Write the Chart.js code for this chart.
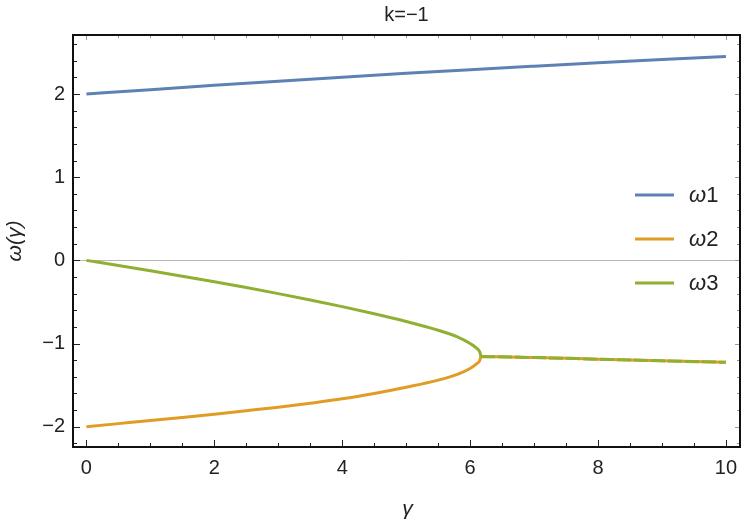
<!DOCTYPE html>
<html>
<head>
<meta charset="utf-8">
<script src="https://cdn.jsdelivr.net/npm/chart.js@4.4.0/dist/chart.umd.min.js"></script>
<style>
  html, body { margin: 0; padding: 0; background: #fff; }
</style>
</head>
<body>
<canvas id="chart" width="750" height="523"></canvas>
<script>
// valeurs (k = -1)
const gammaTop = [0, 1, 2, 3, 4, 5, 6, 7, 8, 9, 10];
const omega1 = [2.0, 2.053, 2.105, 2.155, 2.203, 2.249, 2.293, 2.335, 2.376, 2.415, 2.452];

const gammaBranch = [0, 0.5, 1, 1.5, 2, 2.5, 3, 3.5, 4, 4.5, 5, 5.5, 5.8, 6.0, 6.1, 6.15, 6.17];
const omega2Branch = [-2.0, -1.963, -1.926, -1.888, -1.849, -1.808, -1.765, -1.717, -1.665, -1.60, -1.525, -1.44, -1.37, -1.30, -1.245, -1.205, -1.155];
const omega3Branch = [0, -0.062, -0.125, -0.19, -0.257, -0.327, -0.40, -0.476, -0.556, -0.642, -0.735, -0.84, -0.92, -1.00, -1.055, -1.10, -1.155];

const gammaMerged = [6.17, 7, 8, 9, 10];
const omegaMerged = [-1.155, -1.168, -1.188, -1.208, -1.226];

const xMajor = [0, 2, 4, 6, 8, 10];
const yMajor = [-2, -1, 0, 1, 2];

const seriesLabels = ['1', '2', '3'];
const colors = ['#5E81B5', '#E19C24', '#8FB032'];

function pts(xs, ys) {
    return xs.map((x, i) => ({ x: x, y: ys[i] }));
}

const fontFam = '"Liberation Sans", Arial, sans-serif';

// cadre, graduations internes, légende, titres
const decorPlugin = {
    id: 'decor',
    beforeDatasetsDraw(chart) {
        const { ctx, chartArea: a, scales } = chart;
        const y0 = scales.y.getPixelForValue(0);
        ctx.save();
        ctx.strokeStyle = '#b8b8b8';
        ctx.lineWidth = 1;
        ctx.beginPath();
        ctx.moveTo(a.left, Math.round(y0) + 0.5);
        ctx.lineTo(a.right, Math.round(y0) + 0.5);
        ctx.stroke();
        ctx.restore();
    },
    afterDraw(chart) {
        const { ctx, chartArea: a, scales } = chart;
        const xs = scales.x, ys = scales.y;
        ctx.save();

        // graduations
        ctx.lineWidth = 1;
        for (let v = 0; v <= 10.001; v += 0.5) {
            const px = Math.round(xs.getPixelForValue(v)) + 0.5;
            const major = Math.abs(v / 2 - Math.round(v / 2)) < 1e-6;
            ctx.strokeStyle = '#222';
            ctx.beginPath();
            ctx.moveTo(px, a.bottom);
            ctx.lineTo(px, a.bottom - (major ? 7 : 4));
            ctx.stroke();
            ctx.strokeStyle = '#999';
            ctx.beginPath();
            ctx.moveTo(px, a.top);
            ctx.lineTo(px, a.top + (major ? 5 : 3));
            ctx.stroke();
        }
        for (let i = -11; i <= 13; i++) {
            const v = i * 0.2;
            if (v < ys.min || v > ys.max) continue;
            const py = Math.round(ys.getPixelForValue(v)) + 0.5;
            const major = i % 5 === 0;
            ctx.strokeStyle = '#222';
            ctx.beginPath();
            ctx.moveTo(a.left, py);
            ctx.lineTo(a.left + (major ? 7 : 4), py);
            ctx.stroke();
            ctx.strokeStyle = '#999';
            ctx.beginPath();
            ctx.moveTo(a.right, py);
            ctx.lineTo(a.right - (major ? 5 : 3), py);
            ctx.stroke();
        }

        // cadre
        ctx.strokeStyle = '#111';
        ctx.lineWidth = 2;
        ctx.strokeRect(a.left, a.top, a.right - a.left, a.bottom - a.top);

        // titre
        ctx.fillStyle = '#222';
        ctx.textAlign = 'center';
        ctx.textBaseline = 'middle';
        ctx.font = '20px ' + fontFam;
        ctx.fillText('k=\u22121', (a.left + a.right) / 2, 15);

        // étiquettes des axes
        ctx.font = 'italic 21px ' + fontFam;
        ctx.fillText('\u03b3', (a.left + a.right) / 2 + 1, 509);
        ctx.save();
        ctx.translate(15, (a.top + a.bottom) / 2);
        ctx.rotate(-Math.PI / 2);
        ctx.fillText('\u03c9(\u03b3)', 0, 0);
        ctx.restore();

        // légende
        ctx.textAlign = 'left';
        seriesLabels.forEach((lab, i) => {
            const ly = 195 + i * 44;
            ctx.strokeStyle = colors[i];
            ctx.lineWidth = 3;
            ctx.beginPath();
            ctx.moveTo(635, ly);
            ctx.lineTo(674, ly);
            ctx.stroke();
            ctx.fillStyle = '#222';
            ctx.font = 'italic 22px ' + fontFam;
            ctx.fillText('\u03c9', 689, ly + 1);
            const w = ctx.measureText('\u03c9').width;
            ctx.font = '22px ' + fontFam;
            ctx.fillText(lab, 689 + w, ly + 1);
        });
        ctx.restore();
    }
};

const ctx = document.getElementById('chart').getContext('2d');
new Chart(ctx, {
    type: 'scatter',
    data: {
        datasets: [
            {
                label: '\u03c91',
                data: pts(gammaTop, omega1),
                borderColor: colors[0],
                borderWidth: 3,
                order: 1
            },
            {
                label: '\u03c92',
                data: pts(gammaBranch, omega2Branch).concat(pts(gammaMerged.slice(1), omegaMerged.slice(1))),
                borderColor: colors[1],
                borderWidth: 3,
                order: 3
            },
            {
                label: '\u03c93',
                data: pts(gammaBranch, omega3Branch),
                borderColor: colors[2],
                borderWidth: 3,
                order: 2
            },
            {
                label: 'merged',
                data: pts(gammaMerged, omegaMerged),
                borderColor: colors[2],
                borderWidth: 3,
                borderDash: [14, 3],
                order: 0
            }
        ]
    },
    options: {
        responsive: false,
        animation: false,
        devicePixelRatio: 1,
        showLine: true,
        layout: { padding: { left: 10, right: 10, top: 35, bottom: 0 } },
        elements: {
            point: { radius: 0, hoverRadius: 0 },
            line: { cubicInterpolationMode: 'monotone', fill: false, borderCapStyle: 'butt' }
        },
        plugins: {
            legend: { display: false },
            tooltip: { enabled: false },
            title: { display: false }
        },
        scales: {
            x: {
                type: 'linear',
                min: -0.21,
                max: 10.22,
                grid: { display: false, drawTicks: false },
                border: { display: false },
                afterBuildTicks: s => { s.ticks = xMajor.map(v => ({ value: v })); },
                afterFit: s => { s.height = 76; },
                ticks: {
                    padding: 9,
                    maxRotation: 0,
                    color: '#222',
                    font: { family: fontFam, size: 20 },
                    callback: v => String(v)
                }
            },
            y: {
                type: 'linear',
                min: -2.244,
                max: 2.71,
                grid: { display: false, drawTicks: false },
                border: { display: false },
                afterBuildTicks: s => { s.ticks = yMajor.map(v => ({ value: v })); },
                afterFit: s => { s.width = 63; },
                ticks: {
                    padding: 8,
                    color: '#222',
                    font: { family: fontFam, size: 20 },
                    callback: v => (v < 0 ? '\u2212' + Math.abs(v) : String(v))
                }
            }
        }
    },
    plugins: [decorPlugin]
});
</script>
</body>
</html>
